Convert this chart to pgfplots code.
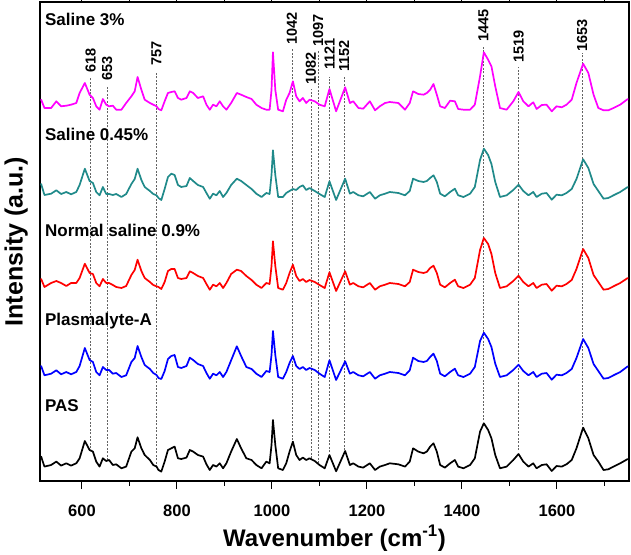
\documentclass[border=0pt]{standalone}
\usepackage{fontspec}
\setmainfont{Liberation Sans}
\usepackage{pgfplots}
\usepackage{pgfplotstable}
\pgfplotsset{compat=1.18}
\definecolor{cmag}{RGB}{255,0,255}
\definecolor{cteal}{RGB}{32,138,138}
\definecolor{cred}{RGB}{255,0,0}
\definecolor{cblue}{RGB}{0,0,255}
\definecolor{cline}{RGB}{100,100,100}

% heights above each trace's own baseline (a.u.)
\pgfplotstableread{
x b p r t m
514 11.7 11 9 13 8.3
521 1.7 1.7 1 2 0
535 3.3 3.3 5 3.3 0
546 6.7 6.7 7 6.7 6.7
556 2.7 2.7 5 3 1.7
567 5 5 2 5 2.3
577 2.7 2.7 5 2.7 3.3
588 5 5 5 5 5
595 10 11 10 12 15
606 27.3 29 24.3 28.3 25
616 18.3 17 15 16 13.3
623 16.7 15 14 14 10
630 6.7 5 5 5 1.7
637 1.7 1.7 1.7 1.7 -1.7
644 10 10 9 10 9
651 7.3 7 5 3 3.3
657 8.3 7 5 3 1.7
665 3.3 3.3 3 2 2.3
672 4 4 1 3 -1.7
683 0 0 0 0 -1.7
693 1.7 1.7 2 3 5
704 16.7 15 13 13 11.7
711 20 19 18 18 16.7
717 31 31 28.3 28.3 31
725 20 20 17 17 18.3
732 13.3 12 10 10 8.3
743 8.3 8 6 6 5
750 3.3 4 3 3 3.3
757 1.7 2 1.7 1.7 1.7
761 -1.7 -1 1 -1 -1
767 -3.3 -2 -1 -3 -2.3
774 6.7 6 6 8 6.7
781 18.3 18 17 20 15
788 20 21 19 23.3 16
795 21.7 22 19 22 16.7
802 10 10 10 12 10
809 9.3 9 9 10 8.3
820 10.7 11 10 11 10
827 18.3 19.3 16.7 19 16.7
834 16.7 17 15 16 15
844 13.3 13 12 12 10
855 11.7 11 10 10 11.7
862 4 4 4 4 3.3
869 -1.7 -1.7 -1.7 -1.7 -1.7
876 3.3 3.3 3.3 3.3 3.3
883 1.7 1.7 1.7 1.7 1.7
890 5 5 5 6 6.7
897 0 0 0 0 1.7
904 5 5 5 4 -1.7
914 16.7 16.7 14 12 5
926 29.3 30.7 18.3 18.3 15
935 20 21 17 16 13.3
946 10 10 12 12 11
957 8.3 8 8 8 9
967 3.3 3.3 3.3 3.3 3.3
978 0 0 0 0 0
988 6.7 6 5 4 -1.7
995 5 5 4 3 -1.7
999 23.3 22 22 22 18
1002 48.3 46 46.7 46.7 55.7
1007 23.3 22 22 22 18
1013 0 0 0 0 -1.7
1023 -1.7 -1.7 -1.7 0 -3.3
1030 5 5 5 4 8.3
1037 16.7 14 15 6 15
1044 26.7 21 23.3 8 26.7
1051 13.3 11 12 7 11.7
1058 8.3 8 7 10 6.7
1065 10.7 10 9 11.7 10
1072 8.3 7 6 7 5
1079 10 9 8 9 8.3
1090 7.3 7 6 6 6.7
1100 3.3 3.3 3 3 3.3
1111 0 0 0 0 1.7
1121 13.3 16.7 15.7 15.7 19
1135 -3 -3 -3 -3 -3.3
1154 17.3 15.7 16.7 18.3 20.7
1164 3.3 3.3 3.3 3.3 5
1171 5 5 5 5 6.7
1182 1.7 1.7 1.7 1.7 0
1192 0.7 0.7 0.7 0.7 -0.7
1206 5 5 5 5 6.7
1217 -1.7 -1.7 -1.7 -1.7 -2.3
1227 1.7 1.7 1.7 1.7 1.7
1238 3.3 3.3 3.3 3.3 5
1248 5 5 5 5 6
1266 4 4 4 4 5
1280 1.7 1.7 1.7 1.7 -1.7
1290 6.7 6.7 6 6 5
1297 20 19.3 18.3 18.3 16.7
1308 16.7 16 16 16 14
1319 15 15 15 15 13.3
1326 16.7 16 16 16 15
1333 21.7 20 20 19 18.3
1340 25 23.3 22.3 21.7 24
1347 16.7 16 15 15 13.3
1354 3.3 3.3 3.3 3.3 1.7
1364 0.7 0.7 0.7 0.7 0
1375 5 5 5 5 7.3
1385 8.3 8.3 8.3 8.3 6.7
1392 1.7 1.7 1.7 1.7 -1
1403 0 0 0 0 -1.7
1417 3.3 3.3 3.3 3.3 -1.7
1427 10 10 10 10 3.3
1438 36.7 36 38 37 31.7
1446 45 44.3 50 48.3 55.7
1455 38.3 38 44 42 48.3
1462 30 30 34 33 41.7
1470 13.3 13.3 15 15 21.7
1480 0 0 0 0 0
1494 1.7 1.7 1.7 1.7 -1.7
1508 8.3 7 7 7 6.7
1519 14.3 12.3 12.3 12.3 16
1529 6.7 6 6 6 6.7
1540 1.7 1.7 1.7 1.7 1.7
1550 5 5 5 5 5.7
1557 0 0 0 0 -1
1568 3.3 3.3 3.3 3.3 3
1578 4 4 4 4 3.3
1589 -2.7 -2.7 -2.7 -2.7 -3.3
1599 2.3 2.3 2.3 2.3 1.7
1610 1.7 1.7 1.7 1.7 0.7
1620 4 4 4 4 3.3
1631 8.3 8 8 8 8.3
1641 20 19 19 18 25
1655 40.7 38 39 37.7 44.3
1666 30 29 30 29 35
1677 13.3 13 13 13 13.3
1687 6.7 6 6 6 0
1698 -1.7 -1.7 -1.7 -1.7 -2.3
1708 -1 -1 -1 -1 -2.3
1719 1.7 1.7 1.7 1.7 0
1733 5 5 5 5 3.3
1749 9.3 10.7 10 10 9
}\spectra

\begin{document}
\begin{tikzpicture}[
  peak/.style={rotate=90, anchor=west, inner sep=0pt, font=\bfseries\fontsize{14.5}{16}\selectfont},
  tname/.style={anchor=west, inner sep=0pt, font=\bfseries\fontsize{17}{19}\selectfont},
  spec/.style={line width=1.7pt, line join=round, line cap=round},
]
\useasboundingbox (-40pt,-73pt) rectangle (591pt,481pt);
\begin{axis}[
  at={(0pt,0pt)}, anchor=south west,
  scale only axis, width=589pt, height=479pt,
  xmin=511.6, xmax=1751.6, ymin=73, ymax=552,
  xtick={600,800,...,1600}, minor xtick={700,900,...,1700},
  ytick=\empty,
  tick align=outside, major tick length=8pt, minor tick length=4.5pt,
  every tick/.style={black, line width=1pt},
  axis line style={line width=1.2pt},
  /pgf/number format/assume math mode=true,
  /pgf/number format/1000 sep={},
  xticklabel style={font=\bfseries\fontsize{16.5}{18}\selectfont, anchor=base, inner sep=0pt},
  xticklabel shift=27.5pt,
  xlabel={Wavenumber (cm\textsuperscript{-1})},
  ylabel={Intensity (a.u.)},
  label style={inner sep=0pt},
  xlabel style={font=\bfseries\fontsize{24}{27}\selectfont, at={(axis description cs:0.5,-0.1357)}, anchor=base},
  ylabel style={font=\bfseries\fontsize{25}{28}\selectfont, at={(axis description cs:-0.0204,0.5)}, anchor=south},
  clip=false,
]
% reference lines
\addplot[cline, dash pattern=on 2pt off 1.5pt, line width=0.6pt] coordinates {(618,106) (618,477)};
\addplot[cline, dash pattern=on 2pt off 1.5pt, line width=0.6pt] coordinates {(653,94) (653,468)};
\addplot[cline, dash pattern=on 2pt off 1.5pt, line width=0.6pt] coordinates {(757,87) (757,481)};
\addplot[cline, dash pattern=on 2pt off 1.5pt, line width=0.6pt] coordinates {(1042,114) (1042,506)};
\addplot[cline, dash pattern=on 2pt off 1.5pt, line width=0.6pt] coordinates {(1082,96) (1082,465)};
\addplot[cline, dash pattern=on 2pt off 1.5pt, line width=0.6pt] coordinates {(1097,91) (1097,504)};
\addplot[cline, dash pattern=on 2pt off 1.5pt, line width=0.6pt] coordinates {(1121,102) (1121,477)};
\addplot[cline, dash pattern=on 2pt off 1.5pt, line width=0.6pt] coordinates {(1152,104) (1152,477)};
\addplot[cline, dash pattern=on 2pt off 1.5pt, line width=0.6pt] coordinates {(1445,134) (1445,507)};
\addplot[cline, dash pattern=on 2pt off 1.5pt, line width=0.6pt] coordinates {(1519,104) (1519,487)};
\addplot[cline, dash pattern=on 2pt off 1.5pt, line width=0.6pt] coordinates {(1653,129) (1653,501)};

% spectra
\addplot[black, spec] table[x=x, y expr=\thisrow{b}+85.7]{\spectra};
\addplot[cblue, spec] table[x=x, y expr=\thisrow{p}+177]{\spectra};
\addplot[cred, spec] table[x=x, y expr=\thisrow{r}+266]{\spectra};
\addplot[cteal, spec] table[x=x, y expr=\thisrow{t}+357]{\spectra};
\addplot[cmag, spec] table[x=x, y expr=\thisrow{m}+446]{\spectra};

% peak labels
\node[peak] at (axis cs:618,481) {618};
\node[peak] at (axis cs:653,473) {653};
\node[peak] at (axis cs:757,488) {757};
\node[peak] at (axis cs:1042,509) {1042};
\node[peak] at (axis cs:1082,469) {1082};
\node[peak] at (axis cs:1097,507) {1097};
\node[peak] at (axis cs:1121,484) {1121};
\node[peak] at (axis cs:1152,482) {1152};
\node[peak] at (axis cs:1445,512) {1445};
\node[peak] at (axis cs:1519,491) {1519};
\node[peak] at (axis cs:1653,502) {1653};

% trace names
\node[tname] at (axis cs:522,534.5) {Saline 3\%};
\node[tname] at (axis cs:522,420) {Saline 0.45\%};
\node[tname] at (axis cs:522,324) {Normal saline 0.9\%};
\node[tname] at (axis cs:522,232.5) {Plasmalyte-A};
\node[tname] at (axis cs:522,148.5) {PAS};
\end{axis}
\end{tikzpicture}
\end{document}
